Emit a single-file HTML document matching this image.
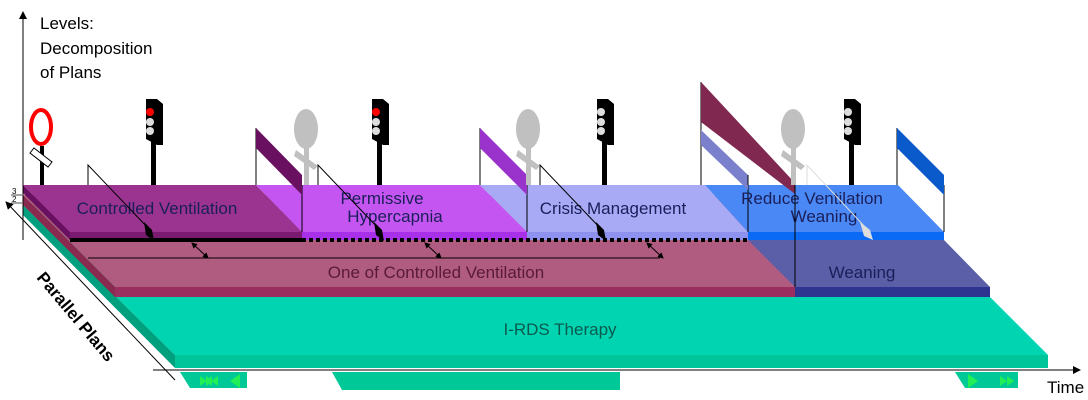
<!DOCTYPE html>
<html><head><meta charset="utf-8"><style>
html,body{margin:0;padding:0;background:#fff;width:1088px;height:400px;overflow:hidden}
text{font-family:"Liberation Sans",sans-serif}
</style></head><body>
<svg width="1088" height="400" viewBox="0 0 1088 400" xmlns="http://www.w3.org/2000/svg">
<defs>
<marker id="ah" markerWidth="8" markerHeight="8" refX="7" refY="4" orient="auto" markerUnits="userSpaceOnUse"><path d="M0,0 L8,4 L0,8 z" fill="#000"/></marker>
<marker id="sa" markerWidth="6" markerHeight="6" refX="5" refY="3" orient="auto" markerUnits="userSpaceOnUse"><path d="M0,0 L6,3 L0,6 z" fill="#000"/></marker>
<marker id="sb" markerWidth="6" markerHeight="6" refX="1" refY="3" orient="auto" markerUnits="userSpaceOnUse"><path d="M6,0 L0,3 L6,6 z" fill="#000"/></marker>
</defs>
<!-- bottom green tabs -->
<polygon points="180,372 247,372 247,388 190,388" fill="#00c896"/>
<polygon points="200,376 207,381 200,386" fill="#22ee55"/><polygon points="206,376 213,381 206,386" fill="#22ee55"/>
<polygon points="212,376 205,381 212,386" fill="#22ee55"/><polygon points="218,376 211,381 218,386" fill="#22ee55"/>
<polygon points="240,374 230,381 240,388" fill="#22ee55"/>
<polygon points="332,372 620,372 620,390 342,390" fill="#00c896"/>
<polygon points="955,372 1018,372 1018,388 965,388" fill="#00c896"/>
<polygon points="968,374 978,381 968,388" fill="#22ee55"/>
<polygon points="1000,376 1007,381 1000,386" fill="#22ee55"/><polygon points="1007,376 1014,381 1007,386" fill="#22ee55"/>
<!-- teal layer -->
<polygon points="23,205 700,205 990,297 1048,355 175,355" fill="#00d4b0"/>
<rect x="175" y="355" width="873" height="13" fill="#00c49a"/>
<polygon points="23,205 23,215 175,368 175,355" fill="#00a07e"/>
<text x="560" y="335" font-size="17" fill="#0a5a50" text-anchor="middle">I-RDS Therapy</text>
<!-- pink layer -->
<polygon points="23,195 748,195 795,287 115,287" fill="#b05c80"/>
<rect x="115" y="287" width="680" height="10" fill="#9a2e5e"/>
<polygon points="23,195 23,205 115,297 115,287" fill="#8a2a50"/>
<polygon points="748,195 944,240 990,287 795,287 748,240" fill="#5a5fa8"/>
<rect x="795" y="287" width="195" height="10" fill="#2e3590"/>
<line x1="795" y1="240" x2="795" y2="287" stroke="#000" stroke-width="1"/>
<text x="436" y="278" font-size="17" fill="#5a1a3a" text-anchor="middle">One of Controlled Ventilation</text>
<text x="862" y="278" font-size="17" fill="#1a1f5a" text-anchor="middle">Weaning</text>
<line x1="88" y1="258" x2="660" y2="258" stroke="#000" stroke-width="1"/>
<line x1="192" y1="243" x2="208" y2="258" stroke="#000" marker-start="url(#sb)" marker-end="url(#sa)"/>
<line x1="425" y1="243" x2="441" y2="258" stroke="#000" marker-start="url(#sb)" marker-end="url(#sa)"/>
<line x1="647" y1="243" x2="663" y2="258" stroke="#000" marker-start="url(#sb)" marker-end="url(#sa)"/>
<!-- top layer -->
<polygon points="23,185 256,185 302,232 70,232" fill="#9a3490"/>
<polygon points="256,185 480,185 527,232 302,232" fill="#c455f0"/>
<polygon points="480,185 705,185 748,232 527,232" fill="#a8aaf5"/>
<polygon points="705,185 898,185 944,232 748,232" fill="#4a88f5"/>
<polygon points="23,185 23,193 70,240 70,232" fill="#6a1060"/>
<rect x="70" y="232" width="232" height="8" fill="#7a1a70"/>
<rect x="302" y="232" width="225" height="8" fill="#a830e8"/>
<rect x="527" y="232" width="221" height="8" fill="#8e92ee"/>
<rect x="748" y="232" width="196" height="8" fill="#0a6af5"/>
<rect x="70" y="238" width="232" height="4" fill="#000"/>
<line x1="302" y1="240" x2="748" y2="240" stroke="#000" stroke-width="4" stroke-dasharray="4,3"/>
<line x1="302" y1="185" x2="302" y2="232" stroke="#000"/>
<line x1="527" y1="185" x2="527" y2="232" stroke="#000"/>
<line x1="748" y1="185" x2="748" y2="232" stroke="#000"/>
<line x1="944" y1="185" x2="944" y2="232" stroke="#000"/>
<text x="157" y="214" font-size="17" fill="#1a1f5a" text-anchor="middle">Controlled Ventilation</text>
<text x="382" y="204" font-size="17" fill="#1a1f5a" text-anchor="middle">Permissive</text>
<text x="395" y="222" font-size="17" fill="#1a1f5a" text-anchor="middle">Hypercapnia</text>
<text x="613" y="214" font-size="17" fill="#1a1f5a" text-anchor="middle">Crisis Management</text>
<text x="812" y="204" font-size="17" fill="#1a1f5a" text-anchor="middle">Reduce Ventilation</text>
<text x="824" y="222" font-size="17" fill="#1a1f5a" text-anchor="middle">Weaning</text>
<!-- flags -->
<line x1="256" y1="128" x2="256" y2="185" stroke="#000"/>
<polygon points="256,128 302,175 302,195 256,148" fill="#6a1060"/>
<line x1="480" y1="128" x2="480" y2="185" stroke="#000"/>
<polygon points="480,128 527,175 527,195 480,148" fill="#9933cc"/>
<line x1="701" y1="82" x2="701" y2="185" stroke="#000"/>
<polygon points="701,130 748,175 748,190 701,145" fill="#7a80cc"/>
<line x1="748" y1="175" x2="748" y2="185" stroke="#000"/>
<polygon points="701,82 795,183 795,194 701,122" fill="#802850"/>
<line x1="795" y1="183" x2="795" y2="240" stroke="#000"/>
<line x1="897" y1="128" x2="897" y2="185" stroke="#000"/>
<polygon points="897,128 944,175 944,195 897,148" fill="#0a5acc"/>
<!-- end marker diagonals -->
<polyline points="88,185 88,165 150,230" fill="none" stroke="#000"/>
<polygon points="144,222 152,230 154,241 146,235" fill="#000"/>
<polyline points="318,185 318,165 380,230" fill="none" stroke="#000"/>
<polygon points="374,222 382,230 384,241 376,235" fill="#000"/>
<polyline points="540,185 540,165 602,230" fill="none" stroke="#000"/>
<polygon points="596,222 604,230 606,241 598,235" fill="#000"/>
<polyline points="807,185 807,165 866,228" fill="none" stroke="#ddd"/>
<polygon points="860,222 870,230 873,240 864,236" fill="#ddd"/>
<!-- signals -->
<ellipse cx="41" cy="127" rx="10" ry="17" fill="none" stroke="#f00" stroke-width="4"/>
<rect x="40" y="146" width="4" height="39" fill="#000"/>
<polygon points="34,148 52,162 48,167 30,153" fill="#fff" stroke="#000" stroke-width="1"/>
<g id="tl"><rect x="151" y="140" width="5" height="45" fill="#000"/><polygon points="146,99 157,99 163,104 163,145 157,145 146,139" fill="#000"/>
<circle cx="150" cy="122" r="4" fill="#ddd"/><circle cx="150" cy="131" r="4" fill="#ddd"/></g>
<circle cx="150" cy="112" r="4" fill="#f00"/>
<use href="#tl" transform="translate(226,0)"/><circle cx="376" cy="112" r="4" fill="#f00"/>
<use href="#tl" transform="translate(451,0)"/><circle cx="601" cy="112" r="4" fill="#ddd"/>
<use href="#tl" transform="translate(698,0)"/><circle cx="848" cy="112" r="4" fill="#ddd"/>
<g id="gs" fill="#c0c0c0"><ellipse cx="306" cy="129" rx="12" ry="20"/><rect x="304" y="147" width="5" height="38"/><polygon points="296,150 318,166 314,170 294,156"/></g>
<use href="#gs" transform="translate(222,0)"/>
<use href="#gs" transform="translate(487,0)"/>
<!-- axes -->
<line x1="23" y1="240" x2="23" y2="12" stroke="#000" marker-end="url(#ah)"/>
<text x="40" y="29" font-size="17" fill="#000">Levels:</text>
<text x="40" y="54" font-size="17" fill="#000">Decomposition</text>
<text x="40" y="78" font-size="17" fill="#000">of Plans</text>
<text x="12" y="194" font-size="8" fill="#000">3</text><line x1="11" y1="195" x2="22" y2="195" stroke="#000" stroke-width="0.7"/>
<text x="12" y="202" font-size="8" fill="#000">2</text><line x1="11" y1="203" x2="22" y2="203" stroke="#000" stroke-width="0.7"/>
<line x1="175" y1="380" x2="6" y2="202" stroke="#000" marker-end="url(#ah)"/>
<text transform="translate(36,278) rotate(50)" font-size="17" font-weight="bold" fill="#000">Parallel Plans</text>
<line x1="153" y1="370" x2="1080" y2="370" stroke="#000" marker-end="url(#ah)"/>
<text x="1047" y="393" font-size="17" fill="#000">Time</text>
</svg>
</body></html>
